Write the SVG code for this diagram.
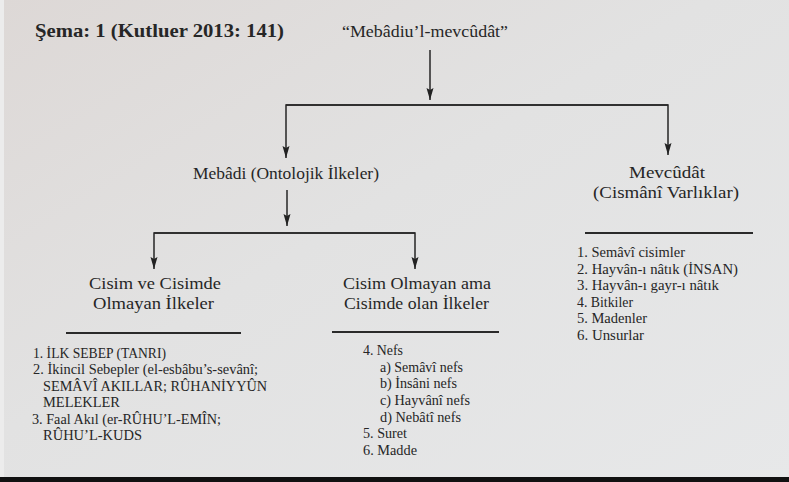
<svg xmlns="http://www.w3.org/2000/svg" width="789" height="482" viewBox="0 0 789 482">
<defs>
<linearGradient id="bg" x1="0" y1="0" x2="1" y2="1">
<stop offset="0" stop-color="#ddd8d6"/>
<stop offset="0.45" stop-color="#e2e2e2"/>
<stop offset="1" stop-color="#e7e8e9"/>
</linearGradient>
<marker id="ah" viewBox="0 0 12 8" refX="12" refY="4" markerWidth="12" markerHeight="8" markerUnits="userSpaceOnUse" orient="auto">
<path d="M0,0.5 L12,4 L0,7.5 L2,4 Z" fill="#222"/>
</marker>
<style>
text{font-family:"Liberation Serif","DejaVu Serif",serif;fill:#262626}
.h{font-size:17.5px}
.l{font-size:15px}
.c{stroke:#262626;stroke-width:1.5;fill:none}
.r{stroke:#2a2a2a;stroke-width:2}
</style>
</defs>
<rect x="0" y="0" width="789" height="482" fill="url(#bg)"/>
<rect x="0" y="0" width="4" height="477" fill="#ececec"/>
<rect x="0" y="477" width="789" height="5" fill="#111"/>
<g id="title"><text x="35" y="37" font-weight="bold" font-size="19" textLength="249" lengthAdjust="spacingAndGlyphs">Şema: 1 (Kutluer 2013: 141)</text></g>
<g id="root"><text x="342" y="37" font-size="16.5" textLength="166" lengthAdjust="spacingAndGlyphs">“Mebâdiu’l-mevcûdât”</text></g>
<g id="connectors">
<path class="c" d="M430,50 V100" marker-end="url(#ah)"/>
<path class="c" d="M668,105 H286 V158" marker-end="url(#ah)"/>
<path class="c" d="M286,105 H668 V155" marker-end="url(#ah)"/>
<path class="c" d="M287,190 V226" marker-end="url(#ah)"/>
<path class="c" d="M415,233 H154 V269" marker-end="url(#ah)"/>
<path class="c" d="M154,233 H415 V269" marker-end="url(#ah)"/>
</g>
<g id="mebadi"><text class="h" x="193" y="179" textLength="186" lengthAdjust="spacingAndGlyphs">Mebâdi (Ontolojik İlkeler)</text></g>
<g id="mevcudat">
<text class="h" x="629" y="178" textLength="76" lengthAdjust="spacingAndGlyphs">Mevcûdât</text>
<text class="h" x="593" y="198" textLength="146" lengthAdjust="spacingAndGlyphs">(Cismânî Varlıklar)</text>
<line class="r" x1="585" y1="233" x2="753" y2="233"/>
<text class="l" x="577" y="257" textLength="108" lengthAdjust="spacingAndGlyphs">1. Semâvî cisimler</text>
<text class="l" x="577" y="274" textLength="161" lengthAdjust="spacingAndGlyphs">2. Hayvân-ı nâtık (İNSAN)</text>
<text class="l" x="577" y="290" textLength="142" lengthAdjust="spacingAndGlyphs">3. Hayvân-ı gayr-ı nâtık</text>
<text class="l" x="577" y="307" textLength="56" lengthAdjust="spacingAndGlyphs">4. Bitkiler</text>
<text class="l" x="577" y="323" textLength="70" lengthAdjust="spacingAndGlyphs">5. Madenler</text>
<text class="l" x="577" y="340" textLength="67" lengthAdjust="spacingAndGlyphs">6. Unsurlar</text>
</g>
<g id="cisim-ve">
<text class="h" x="89" y="289" textLength="132" lengthAdjust="spacingAndGlyphs">Cisim ve Cisimde</text>
<text class="h" x="93" y="309" textLength="121" lengthAdjust="spacingAndGlyphs">Olmayan İlkeler</text>
<line class="r" x1="66" y1="333" x2="241" y2="333"/>
<text class="l" x="33" y="358" textLength="133" lengthAdjust="spacingAndGlyphs">1. İLK SEBEP (TANRI)</text>
<text class="l" x="33" y="374" textLength="225" lengthAdjust="spacingAndGlyphs">2. İkincil Sebepler (el-esbâbu’s-sevânî;</text>
<text class="l" x="43" y="391" textLength="224" lengthAdjust="spacingAndGlyphs">SEMÂVÎ AKILLAR; RÛHANİYYÛN</text>
<text class="l" x="43" y="407" textLength="77" lengthAdjust="spacingAndGlyphs">MELEKLER</text>
<text class="l" x="32" y="424" textLength="189" lengthAdjust="spacingAndGlyphs">3. Faal Akıl (er-RÛHU’L-EMÎN;</text>
<text class="l" x="43" y="440" textLength="99" lengthAdjust="spacingAndGlyphs">RÛHU’L-KUDS</text>
</g>
<g id="cisim-olmayan">
<text class="h" x="343" y="289" textLength="148" lengthAdjust="spacingAndGlyphs">Cisim Olmayan ama</text>
<text class="h" x="344" y="309" textLength="145" lengthAdjust="spacingAndGlyphs">Cisimde olan İlkeler</text>
<line class="r" x1="332" y1="332" x2="499" y2="332"/>
<text class="l" x="363" y="355" textLength="40" lengthAdjust="spacingAndGlyphs">4. Nefs</text>
<text class="l" x="380" y="372" textLength="83" lengthAdjust="spacingAndGlyphs">a) Semâvî nefs</text>
<text class="l" x="380" y="388" textLength="77" lengthAdjust="spacingAndGlyphs">b) İnsâni nefs</text>
<text class="l" x="380" y="405" textLength="90" lengthAdjust="spacingAndGlyphs">c) Hayvânî nefs</text>
<text class="l" x="380" y="422" textLength="81" lengthAdjust="spacingAndGlyphs">d) Nebâtî nefs</text>
<text class="l" x="363" y="438" textLength="44" lengthAdjust="spacingAndGlyphs">5. Suret</text>
<text class="l" x="363" y="455" textLength="54" lengthAdjust="spacingAndGlyphs">6. Madde</text>
</g>
</svg>
